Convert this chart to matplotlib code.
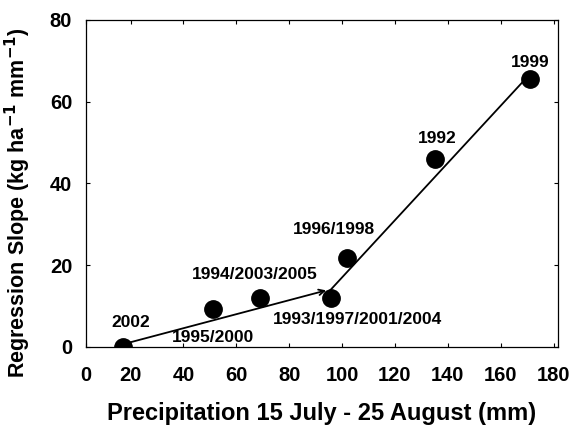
import matplotlib.pyplot as plt

plt.rcParams['font.family'] = ['Liberation Sans', 'DejaVu Sans']
plt.rcParams['font.weight'] = 'bold'

# data
precip = [17, 51, 69, 96, 102, 135, 171]
slope = [0, 9.3, 12, 12, 21.8, 46, 65.5]
years = ['2002', '1995/2000', '1994/2003/2005', '1993/1997/2001/2004',
         '1996/1998', '1992', '1999']
label_xy = [(20, 6), (51, 2.2), (67, 17.6), (106, 6.6), (97, 28.6), (136, 51), (171, 69.5)]

# fitted segments
seg1_x = [18, 95]
seg1_y = [0.8, 14]
seg2_x = [95, 170]
seg2_y = [13.5, 66]

x_left = 3.2
xticks = [x_left, 20, 40, 60, 80, 100, 120, 140, 160, 180]
xtick_labels = ['0', '20', '40', '60', '80', '100', '120', '140', '160', '180']

fig = plt.figure(figsize=(5.82, 4.32), dpi=100)
ax = fig.add_axes([0.148, 0.197, 0.81, 0.757])

ax.plot(precip, slope, 'o', color='black', markersize=12.5, zorder=3)
ax.annotate('', xy=(seg1_x[1], seg1_y[1]), xytext=(seg1_x[0], seg1_y[0]),
            arrowprops=dict(arrowstyle='->', color='black', lw=1.3))
ax.plot(seg2_x, seg2_y, color='black', lw=1.3)

for lab, (tx, ty) in zip(years, label_xy):
    ax.text(tx, ty, lab, ha='center', va='center', fontsize=12.5, fontweight='bold')

ax.set_xlim(x_left, 181.5)
ax.set_ylim(0, 80)
ax.set_xticks(xticks, xtick_labels)
ax.set_yticks(range(0, 81, 20))
ax.tick_params(direction='in', top=True, right=True, labelsize=14.5, length=3)
ax.tick_params(axis='x', pad=14)
ax.tick_params(axis='y', pad=10)
for s in ax.spines.values():
    s.set_linewidth(0.9)

ax.set_xlabel('Precipitation 15 July - 25 August (mm)', fontsize=17, fontweight='bold', labelpad=12)
ax.set_ylabel('Regression Slope (kg ha$^{\\mathbf{-1}}$ mm$^{\\mathbf{-1}}$)', fontsize=15.5,
              fontweight='bold')
ax.yaxis.set_label_coords(-0.112, 0.44)

fig.savefig('out.png', dpi=100)
